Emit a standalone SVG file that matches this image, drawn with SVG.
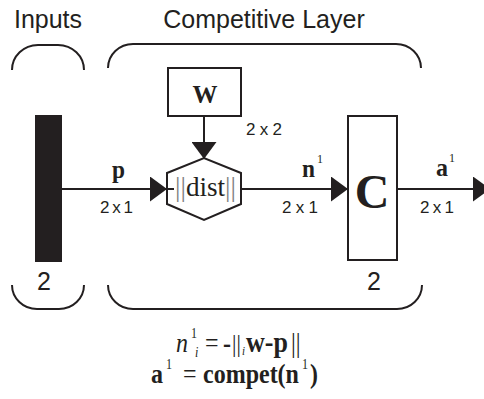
<svg xmlns="http://www.w3.org/2000/svg" width="484" height="399" viewBox="0 0 484 399">
<defs>
<style>
.sans{font-family:"Liberation Sans",Arial,sans-serif;fill:#231f20}
.serif{font-family:"Liberation Serif","Times New Roman",serif;fill:#231f20}
.b{font-weight:bold}
.it{font-style:italic}
.ln{stroke:#231f20;stroke-width:2;fill:none}
.box{stroke:#231f20;stroke-width:2;fill:#fff}
.dim{font-size:17px}
.eq{font-size:24px}
.sup{font-size:12px}
</style>
<marker id="arr" markerUnits="userSpaceOnUse" markerWidth="17" markerHeight="25" refX="17" refY="12.5" orient="auto">
<path d="M0,0 L17,12.5 L0,25 z" fill="#231f20"/>
</marker>
</defs>
<rect width="484" height="399" fill="#fff"/>
<g id="titles">
<text class="sans" x="48" y="28" font-size="25" text-anchor="middle">Inputs</text>
<text class="sans" x="264" y="28" font-size="25" text-anchor="middle">Competitive Layer</text>
</g>
<g id="brackets">
<path class="ln" d="M12,70 A26,25 0 0 1 38,45 L58,45 A26,25 0 0 1 84,70"/>
<path class="ln" d="M108,68 A25,24 0 0 1 133,44 L396,44 A25,24 0 0 1 421,68"/>
<path class="ln" d="M12,285 A25,24 0 0 0 37,309 L59,309 A25,24 0 0 0 84,285"/>
<path class="ln" d="M108,285 A25,24 0 0 0 133,309 L397,309 A25,24 0 0 0 422,285"/>
</g>
<g id="connectors">
<line class="ln" x1="62" y1="189" x2="167" y2="189" marker-end="url(#arr)"/>
<line class="ln" x1="204" y1="116" x2="204" y2="159" marker-end="url(#arr)"/>
<line class="ln" x1="241" y1="189" x2="348" y2="189" marker-end="url(#arr)"/>
<line class="ln" x1="397" y1="189" x2="490" y2="189" marker-end="url(#arr)"/>
</g>
<g id="input">
<rect x="35" y="115" width="27" height="147" fill="#231f20"/>
<text class="sans" x="44" y="290" font-size="25" text-anchor="middle">2</text>
</g>
<g id="weights">
<rect class="box" x="168" y="68" width="73" height="48"/>
<text class="serif b" x="205" y="103" font-size="25" text-anchor="middle">W</text>
<text class="sans dim" x="246" y="135" textLength="36">2x2</text>
</g>
<g id="dist">
<polygon class="box" points="167,173 204,158 241,173 241,204 204,220 167,204"/>
<line class="ln" x1="167" y1="189" x2="174" y2="189"/>
<text class="serif" x="175" y="196" font-size="28" textLength="61" lengthAdjust="spacingAndGlyphs"><tspan fill="#808080">||</tspan>dist<tspan fill="#808080">||</tspan></text>
</g>
<g id="compet">
<rect class="box" x="348" y="116" width="49" height="144"/>
<text class="serif b" x="372" y="208" font-size="48" text-anchor="middle">C</text>
<text class="sans" x="374" y="290" font-size="25" text-anchor="middle">2</text>
</g>
<g id="labels">
<text class="serif b" x="112" y="178" font-size="26" textLength="13" lengthAdjust="spacingAndGlyphs">p</text>
<text class="sans dim" x="100" y="213" textLength="33">2x1</text>
<text class="serif b" x="302" y="177" font-size="26" textLength="13" lengthAdjust="spacingAndGlyphs">n</text>
<text class="serif" x="317" y="163" font-size="12">1</text>
<text class="sans dim" x="282" y="213" textLength="36">2x1</text>
<text class="serif b" x="436" y="176" font-size="26" textLength="12" lengthAdjust="spacingAndGlyphs">a</text>
<text class="serif" x="449" y="162" font-size="12">1</text>
<text class="sans dim" x="420" y="213" textLength="34">2x1</text>
</g>
<g id="equations">
<g transform="translate(0,352) scale(1,1.15) translate(0,-352)">
<text class="serif it eq" x="176" y="352">n</text>
<text class="serif sup" x="191" y="340">1</text>
<text class="serif it sup" x="195" y="356">i</text>
<text class="serif eq" x="205" y="352">=</text>
<text class="serif b eq" x="223" y="352">-</text>
<text class="serif" x="232" y="352" font-size="22">||</text>
<text class="serif it" x="242" y="355" font-size="11">i</text>
<text class="serif b" x="246" y="352" font-size="26">w-p</text>
<text class="serif" x="291" y="352" font-size="24">||</text>
</g>
<g transform="translate(0,383) scale(1,1.15) translate(0,-383)">
<text class="serif b eq" x="151" y="383">a</text>
<text class="serif sup" x="166" y="371">1</text>
<text class="serif eq" x="183" y="383">=</text>
<text class="serif b eq" x="203" y="383">compet(n</text>
<text class="serif sup" x="302" y="371">1</text>
<text class="serif b eq" x="310" y="383">)</text>
</g>
</g>
</svg>
